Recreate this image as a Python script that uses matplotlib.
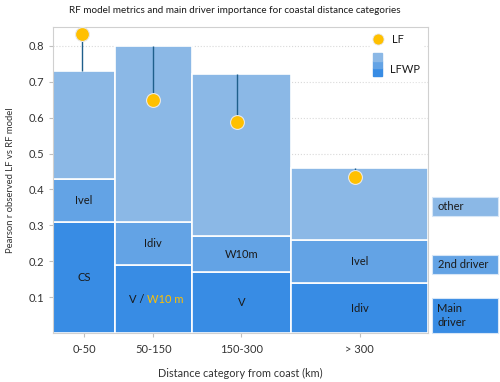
import matplotlib
matplotlib.use("Agg")
import matplotlib.pyplot as plt
from matplotlib.patches import Rectangle

plt.rcParams['font.family'] = ['Lato', 'DejaVu Sans']

# categories and values
categories = ['0-50', '50-150', '150-300', '> 300']
bar_left = [0.0, 61.7, 138.2, 238.0]       # bar left edges
bar_width = [61.7, 76.5, 99.8, 136.4]      # bar widths
dot_x = [29.0, 99.4, 183.7, 302.0]         # where the LF dots sit
main_val = [0.31, 0.19, 0.17, 0.14]        # main driver
second_top = [0.43, 0.31, 0.27, 0.26]      # top of 2nd driver
lfwp = [0.73, 0.80, 0.72, 0.46]            # total LFWP
lf = [0.833, 0.65, 0.589, 0.435]           # LF dots
main_names = ['CS', 'V /', 'V', 'Idiv']
second_names = ['Ivel', 'Idiv', 'W10m', 'Ivel']

c_main = '#388CE4'
c_second = '#63A3E5'
c_other = '#8BB8E6'
c_dot = '#FFC000'
c_line = '#1F5F8B'

centres = [l + w / 2 for l, w in zip(bar_left, bar_width)]

fig = plt.figure(figsize=(5, 3.82), dpi=100)
ax = fig.add_axes([0.1066, 0.1277, 0.749, 0.8016])

ax.set_xlim(0, 374.4)
ax.set_ylim(0, 0.852)
ax.set_yticks([0.1, 0.2, 0.3, 0.4, 0.5, 0.6, 0.7, 0.8])
ax.set_yticklabels(['0.1', '0.2', '0.3', '0.4', '0.5', '0.6', '0.7', '0.8'])
ax.set_xticks(centres)
ax.set_xticklabels(categories)
ax.tick_params(labelsize=8, colors='#333333', length=3, color='#BFBFBF')
ax.tick_params(axis='x', pad=5)
ax.grid(axis='y', color='#D9D9D9', linestyle=':', linewidth=0.8)
ax.set_axisbelow(True)
for s in ax.spines.values():
    s.set_color('#D0D0D0')
    s.set_linewidth(0.8)

second_h = [t - m for t, m in zip(second_top, main_val)]
other_h = [t - s for t, s in zip(lfwp, second_top)]
ax.bar(bar_left, main_val, width=bar_width, align='edge', color=c_main,
       edgecolor='white', linewidth=1.2, zorder=2)
ax.bar(bar_left, second_h, width=bar_width, bottom=main_val, align='edge',
       color=c_second, edgecolor='white', linewidth=1.2, zorder=2)
ax.bar(bar_left, other_h, width=bar_width, bottom=second_top, align='edge',
       color=c_other, edgecolor='white', linewidth=1.2, zorder=2)

# lines from LFWP to LF and the LF dots
ax.vlines(dot_x, lfwp, lf, color=c_line, linewidth=1, zorder=3)
ax.plot(dot_x, lf, 'o', color=c_dot, markersize=10, markeredgecolor='#E8E8E8',
        markeredgewidth=0.8, linestyle='none', zorder=4)

# labels inside the bars
for i in range(len(categories)):
    ymain = main_val[i] / 2
    ysec = (main_val[i] + second_top[i]) / 2
    ax.text(centres[i], ysec, second_names[i], ha='center', va='center',
            fontsize=8, color='#1A1A1A', zorder=5)
    if i == 1:
        ax.text(90.7, ymain, main_names[i], ha='right', va='center',
                fontsize=8, color='#1A1A1A', zorder=5)
        ax.text(93.7, ymain, 'W10 m', ha='left', va='center',
                fontsize=8, color=c_dot, zorder=5)
    else:
        ax.text(centres[i], ymain, main_names[i], ha='center', va='center',
                fontsize=8, color='#1A1A1A', zorder=5)

# legend drawn in axes coordinates
ax.add_patch(Rectangle((0.845, 0.825), 0.14, 0.17, transform=ax.transAxes,
                       color='white', zorder=3))
ax.plot([0.866], [0.961], 'o', transform=ax.transAxes, color=c_dot, markersize=8,
        markeredgecolor='#E8E8E8', markeredgewidth=0.6, zorder=4)
ax.text(0.905, 0.958, 'LF', transform=ax.transAxes, va='center', fontsize=8,
        color='#1A1A1A', zorder=5)
for k, c in enumerate([c_main, c_second, c_other]):
    ax.add_patch(Rectangle((0.853, 0.841 + k * 0.0243), 0.025, 0.0243,
                           transform=ax.transAxes, color=c, zorder=4))
ax.text(0.899, 0.862, 'LFWP', transform=ax.transAxes, va='center', fontsize=8,
        color='#1A1A1A', zorder=5)

# key boxes to the right of the chart
boxes = [(0.4346, 0.0504, c_other, 'other'),
         (0.2827, 0.0498, c_second, '2nd driver'),
         (0.1290, 0.0909, c_main, 'Main\ndriver')]
for y0, h, c, lab in boxes:
    fig.patches.append(Rectangle((0.864, y0), 0.132, h, transform=fig.transFigure,
                                 facecolor=c, edgecolor='#D6E6F7', linewidth=0.8))
    fig.text(0.875, y0 + h / 2, lab, va='center', ha='left', fontsize=8,
             color='#1A1A1A', linespacing=1.4)

ax.set_xlabel('Distance category from coast (km)', fontsize=7.8, color='#333333',
              labelpad=9)
ax.set_ylabel('Pearson r observed LF vs RF model', fontsize=6.8, color='#333333',
              labelpad=10)
fig.text(0.47, 0.972, 'RF model metrics and main driver importance for coastal distance categories',
         ha='center', va='center', fontsize=7.1, color='#1A1A1A')

fig.savefig('out.png', dpi=100)
